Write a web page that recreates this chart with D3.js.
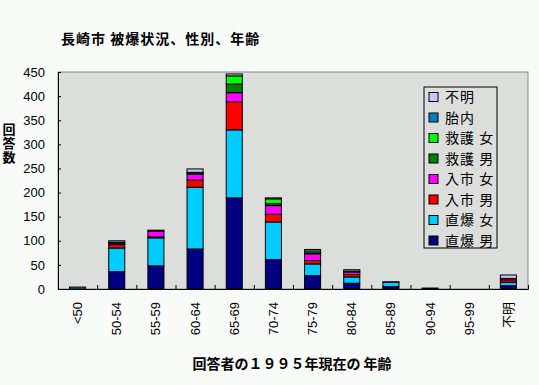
<!DOCTYPE html>
<html>
<head>
<meta charset="utf-8">
<script src="https://cdn.jsdelivr.net/npm/d3@7"></script>
<style>
  body { margin: 0; background: #f8fbf8; }
  svg { display: block; }
</style>
</head>
<body>
<div id="chart"></div>
<script>
// data
const categories = ['<50', '50-54', '55-59', '60-64', '65-69', '70-74', '75-79', '80-84', '85-89', '90-94', '95-99', '不明'];
const seriesNames = ['直爆 男', '直爆 女', '入市 男', '入市 女', '救護 男', '救護 女', '胎内', '不明'];
const chokubakuMale   = [0, 36, 48, 83, 189, 61, 28, 12, 5, 2, 0, 7];
const chokubakuFemale = [0, 49, 58, 128, 141, 78, 24, 13, 9, 0, 0, 7];
const nyushiMale      = [0, 7, 2, 15, 58, 16, 7, 5, 0, 0, 0, 5];
const nyushiFemale    = [0, 3, 12, 12, 19, 18, 14, 5, 0, 0, 0, 3];
const kyugoMale       = [0, 2, 0, 3, 18, 4, 2, 2, 0, 0, 0, 0];
const kyugoFemale     = [0, 0, 0, 1, 17, 10, 4, 0, 0, 0, 0, 0];
const tainai          = [4, 0, 0, 0, 0, 0, 0, 0, 0, 0, 0, 0];
const fumei           = [0, 3, 2, 7, 4, 2, 3, 3, 1, 0, 0, 7];
const yTicks = [0, 50, 100, 150, 200, 250, 300, 350, 400, 450];

const seriesValues = [chokubakuMale, chokubakuFemale, nyushiMale, nyushiFemale, kyugoMale, kyugoFemale, tainai, fumei];
const colors = ['#000080', '#00ccff', '#ff0000', '#ff00ff', '#008000', '#00ff00', '#0080c0', '#c8c8f8'];

const W = 539, H = 385;
const plot = { left: 58, right: 528, top: 72, bottom: 289 };
const jp = '"Noto Sans CJK JP", sans-serif';
const num = '"Liberation Sans", Arial, sans-serif';

const svg = d3.select('#chart').append('svg').attr('width', W).attr('height', H);

// table for stacking
const table = categories.map((c, i) => {
  const row = { cat: c };
  seriesNames.forEach((s, k) => { row[s] = seriesValues[k][i]; });
  return row;
});
const stacked = d3.stack().keys(seriesNames)(table);

const x = d3.scaleBand().domain(categories).range([plot.left, plot.right])
  .paddingInner(0.59).paddingOuter(0.295);
const y = d3.scaleLinear().domain([0, 450]).range([plot.bottom, plot.top]);

// plot background
svg.append('rect')
  .attr('x', plot.left).attr('y', plot.top)
  .attr('width', plot.right - plot.left).attr('height', plot.bottom - plot.top)
  .attr('fill', '#dcdedc').attr('stroke', '#888').attr('stroke-width', 1);

// bars
const layers = svg.append('g').selectAll('g').data(stacked).join('g')
  .attr('fill', (d, i) => colors[i]);
layers.selectAll('rect').data(d => d.filter(p => p[1] - p[0] > 0)).join('rect')
  .attr('x', d => x(d.data.cat))
  .attr('y', d => y(d[1]))
  .attr('width', x.bandwidth())
  .attr('height', d => y(d[0]) - y(d[1]))
  .attr('stroke', '#000').attr('stroke-width', 1);

// y axis
const yAxis = svg.append('g').attr('transform', `translate(${plot.left},0)`)
  .call(d3.axisLeft(y).tickValues(yTicks).tickSize(-3).tickPadding(13));
yAxis.select('.domain').attr('stroke', '#000');
yAxis.selectAll('text').attr('font-family', num).attr('font-size', 13).attr('fill', '#000');

// x axis: ticks between categories
const xb = d3.scaleLinear().domain([0, categories.length]).range([plot.left, plot.right]);
const xTickAxis = svg.append('g').attr('transform', `translate(0,${plot.bottom})`)
  .call(d3.axisBottom(xb).tickValues(d3.range(1, categories.length)).tickSize(-4).tickFormat(''));
xTickAxis.select('.domain').attr('stroke', '#000');

// x labels, rotated
const xAxis = svg.append('g').attr('transform', `translate(0,${plot.bottom})`)
  .call(d3.axisBottom(x).tickSize(0).tickPadding(0));
xAxis.select('.domain').remove();
xAxis.selectAll('text')
  .attr('font-family', num).attr('font-size', 13).attr('fill', '#000')
  .attr('transform', 'rotate(-90)')
  .attr('text-anchor', 'end')
  .attr('x', -13).attr('y', 0).attr('dy', '0.35em');
xAxis.selectAll('text').filter(d => d === '不明').attr('font-family', jp);

// title
svg.append('text').attr('x', 61).attr('y', 44)
  .attr('font-family', jp).attr('font-weight', 'bold').attr('font-size', 14)
  .attr('letter-spacing', 1)
  .text('長崎市 被爆状況、性別、年齢');

// y title, upright vertical text
svg.append('text').attr('x', 9).attr('y', 123)
  .attr('writing-mode', 'vertical-rl')
  .attr('font-family', jp).attr('font-weight', 'bold').attr('font-size', 13)
  .attr('letter-spacing', 1)
  .text('回答数');

// x title
svg.append('text').attr('x', 292).attr('y', 369)
  .attr('text-anchor', 'middle')
  .attr('font-family', jp).attr('font-weight', 'bold').attr('font-size', 14)
  .text('回答者の１９９５年現在の 年齢');

// legend, reversed order like the original
const legend = svg.append('g');
legend.append('rect').attr('x', 424).attr('y', 87).attr('width', 73).attr('height', 161)
  .attr('fill', 'none').attr('stroke', '#000');
const items = seriesNames.map((s, i) => ({ name: s, color: colors[i] })).reverse();
const li = legend.selectAll('g.item').data(items).join('g').attr('class', 'item')
  .attr('transform', (d, i) => `translate(429,${97 + i * 20.5})`);
li.append('rect').attr('x', 0).attr('y', -4.5).attr('width', 9).attr('height', 9)
  .attr('fill', d => d.color).attr('stroke', '#000');
li.append('text').attr('x', 16).attr('y', 0).attr('dy', '0.36em')
  .attr('font-family', jp).attr('font-size', 14).attr('letter-spacing', 1)
  .text(d => d.name);
</script>
</body>
</html>
